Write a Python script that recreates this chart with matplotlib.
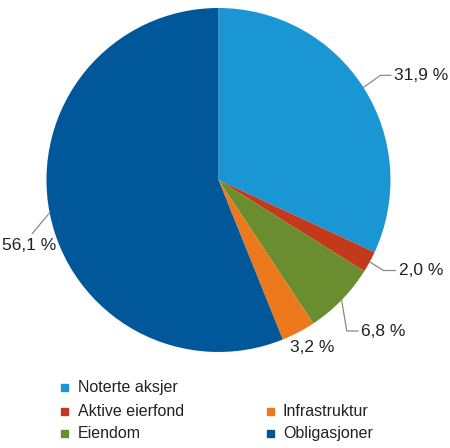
import numpy as np
import matplotlib
matplotlib.use("Agg")
import matplotlib.pyplot as plt

plt.rcParams['font.family'] = ['Liberation Sans', 'DejaVu Sans']

labels = ['Noterte aksjer', 'Aktive eierfond', 'Eiendom', 'Infrastruktur', 'Obligasjoner']
shares = [31.9, 2.0, 6.8, 3.2, 56.1]
colours = ['#1a96d4', '#c2391b', '#6a8e2f', '#ec7a1c', '#00579a']

fig = plt.figure(figsize=(4.5, 4.48), dpi=100)
ax = fig.add_axes([0.1033, 0.2143, 0.7644, 0.7679])
wedges, _ = ax.pie(shares, colors=colours, startangle=90, counterclock=False,
                   radius=1.0, wedgeprops=dict(linewidth=0))
ax.set_xlim(-1, 1)
ax.set_ylim(-1, 1)
ax.set_aspect('equal')

# label placement: (elbow offset, horizontal run, alignment) in data units
place = [
    ((0.10, 0.07), 0.06, 'left'),
    ((0.08, -0.05), 0.07, 'left'),
    ((0.03, -0.18), 0.065, 'left'),
    (None, 0, 'center'),
    ((-0.10, -0.12), 0, 'below'),
]

for w, val, (elbow, run, ha) in zip(wedges, shares, place):
    ang = np.deg2rad((w.theta1 + w.theta2) / 2)
    x0, y0 = np.cos(ang), np.sin(ang)
    txt = f"{val:.1f} %".replace('.', ',')
    if elbow is None:
        ax.text(x0 + 0.08, y0 - 0.09, txt, ha='center', va='center', fontsize=12.5, color='#222222')
        continue
    x1, y1 = x0 + elbow[0], y0 + elbow[1]
    if ha == 'left':
        x2 = x1 + run
        ax.plot([x0, x1, x2], [y0, y1, y1], color='#8a8a8a', lw=0.9, clip_on=False)
        ax.text(x2 + 0.02, y1, txt, ha='left', va='center', fontsize=12.5, color='#222222')
    else:
        ax.plot([x0, x1], [y0, y1], color='#8a8a8a', lw=0.9, clip_on=False)
        ax.text(x1 - 0.02, y1 - 0.025, txt, ha='center', va='top', fontsize=12.5, color='#222222')

# legend: first entry alone, then two columns
legend_pos = [(0, 0), (0, 1), (0, 2), (1, 1), (1, 2)]
col_x = [65 / 450, 270 / 450]
row_y = [1 - 387 / 448, 1 - 411 / 448, 1 - 433 / 448]
for lab, col, (c, r) in zip(labels, colours, legend_pos):
    fig.patches.append(plt.Rectangle((col_x[c] - 3.5 / 450, row_y[r] - 3.5 / 448), 7 / 450, 7 / 448,
                                     transform=fig.transFigure, color=col, figure=fig))
    fig.text(col_x[c] + 13 / 450, row_y[r], lab, ha='left', va='center', fontsize=11.5, color='#222222')

fig.savefig('out.png', dpi=100)
